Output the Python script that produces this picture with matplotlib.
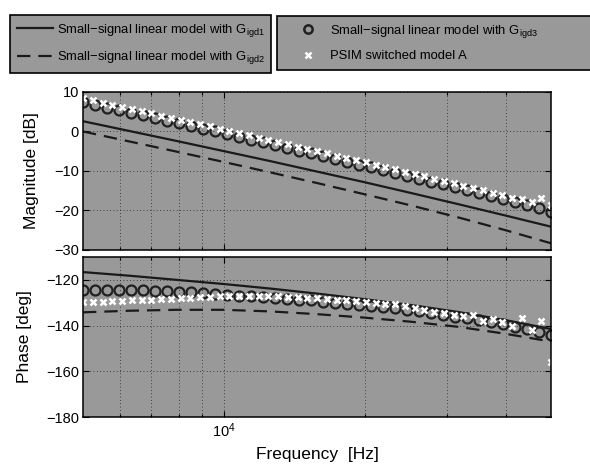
import matplotlib
matplotlib.use("Agg")
import matplotlib.pyplot as plt
from matplotlib.lines import Line2D
from matplotlib.patches import Rectangle
from matplotlib.ticker import FixedLocator, NullFormatter

plt.rcParams['font.family'] = ['Liberation Sans', 'DejaVu Sans']
plt.rcParams['mathtext.fontset'] = 'custom'
plt.rcParams['mathtext.rm'] = 'Liberation Sans'
plt.rcParams['mathtext.it'] = 'Liberation Sans'
plt.rcParams['axes.unicode_minus'] = True

# ---- small-signal model curves (sampled every 0.1 decade) ----
freq_model = [5000, 6295, 7924, 9976, 12559, 15811, 19905, 25059, 31548, 39716, 50000]
mag_gigd1 = [2.6, 0.1, -2.4, -4.95, -7.5, -10.15, -12.8, -15.55, -18.35, -21.2, -24.1]
mag_gigd2 = [0.0, -2.55, -5.1, -7.7, -10.35, -13.05, -15.85, -18.7, -21.7, -24.9, -28.3]
phase_gigd1 = [-116.6, -118.2, -120.0, -121.8, -123.8, -126.0, -128.4, -131.0, -134.0, -137.5, -141.5]
phase_gigd2 = [-134.2, -133.5, -133.1, -133.1, -133.8, -135.0, -136.5, -138.3, -140.5, -143.5, -147.0]

# ---- small-signal model evaluated at the sweep points (circles) ----
freq_circ = [5000, 5304, 5627, 5969, 6332, 6717, 7126, 7559, 8019, 8506,
             9024, 9572, 10155, 10772, 11427, 12122, 12860, 13642, 14471, 15351,
             16285, 17276, 18326, 19441, 20623, 21877, 23208, 24619, 26117, 27705,
             29390, 31177, 33073, 35085, 37219, 39482, 41883, 44431, 47133, 50000]
mag_circ = [7.35, 6.7, 6.05, 5.4, 4.72, 4.05, 3.38, 2.7, 2.02, 1.35,
            0.66, 0.0, -0.7, -1.4, -2.08, -2.78, -3.47, -4.17, -4.87, -5.57,
            -6.27, -6.98, -7.68, -8.4, -9.1, -9.82, -10.54, -11.26, -11.98, -12.7,
            -13.42, -14.15, -14.88, -15.62, -16.36, -17.1, -17.85, -18.6, -19.4, -20.3]
phase_circ = [-124.4, -124.4, -124.4, -124.5, -124.5, -124.6, -124.8, -125.0, -125.2, -125.5,
              -125.8, -126.1, -126.5, -126.9, -127.2, -127.5, -127.9, -128.3, -128.6, -129.0,
              -129.5, -130.0, -130.5, -131.0, -131.5, -132.0, -132.5, -133.1, -133.8, -134.5,
              -135.3, -136.1, -136.9, -137.7, -138.6, -139.5, -140.6, -141.7, -142.9, -144.3]

# ---- PSIM switched model A (crosses) ----
freq_psim = [5000, 5246, 5504, 5774, 6058, 6355, 6668, 6995, 7339, 7700,
             8078, 8475, 8892, 9329, 9787, 10268, 10772, 11302, 11857, 12440,
             13051, 13692, 14365, 15071, 15811, 16588, 17404, 18259, 19156, 20098,
             21085, 22121, 23208, 24349, 25545, 26801, 28118, 29499, 30949, 32470,
             34066, 35740, 37496, 39338, 41272, 43300, 45428, 47660, 50000]
mag_psim = [8.4, 7.86, 7.32, 6.78, 6.23, 5.68, 5.14, 4.59, 4.04, 3.49,
            2.93, 2.38, 1.83, 1.27, 0.71, 0.15, -0.41, -0.97, -1.54, -2.1,
            -2.67, -3.24, -3.81, -4.38, -4.95, -5.52, -6.1, -6.68, -7.25, -7.83,
            -8.41, -8.99, -9.58, -10.16, -10.75, -11.34, -11.93, -12.52, -13.11, -13.7,
            -14.3, -14.89, -15.49, -16.0, -16.8, -17.1, -17.8, -16.9, -18.5]
phase_psim = [-129.8, -129.6, -129.5, -129.3, -129.1, -129.0, -128.8, -128.6, -128.4, -128.2,
              -128.0, -127.8, -127.6, -127.4, -127.2, -127.0, -126.9, -126.9, -126.9, -127.0,
              -127.2, -127.5, -127.6, -127.9, -128.1, -128.3, -128.6, -128.9, -129.2, -129.6,
              -130.1, -130.4, -130.7, -131.3, -132.1, -133.4, -134.2, -134.4, -135.2, -135.9,
              -135.3, -137.8, -137.0, -138.5, -140.0, -136.6, -142.1, -138.1, -156.0]

label_g1 = r'Small−signal linear model with G$_{\mathrm{igd1}}$'
label_g2 = r'Small−signal linear model with G$_{\mathrm{igd2}}$'
label_g3 = r'Small−signal linear model with G$_{\mathrm{igd3}}$'
label_psim = 'PSIM switched model A'

bg = '#999999'
ink = '#1a1a1a'
dash = (0, (6, 3.6))
W, H = 590, 465

fig = plt.figure(figsize=(5.9, 4.65), dpi=100)
ax_mag = fig.add_axes([0.1407, 0.4624, 0.7932, 0.3398])
ax_ph = fig.add_axes([0.1407, 0.1032, 0.7932, 0.3441], sharex=ax_mag)

circ_style = dict(ls='none', marker='o', ms=7.2, mfc='none', mec='#202020', mew=1.6)
psim_style = dict(ls='none', marker='x', ms=5, mec='white', mew=1.8)

for ax in (ax_mag, ax_ph):
    ax.set_facecolor(bg)
    ax.set_xscale('log')
    ax.set_xlim(5000, 50000)
    ax.xaxis.set_major_locator(FixedLocator([1e4]))
    ax.xaxis.set_minor_locator(FixedLocator([6e3, 7e3, 8e3, 9e3, 2e4, 3e4, 4e4]))
    ax.xaxis.set_minor_formatter(NullFormatter())
    ax.grid(True, which='both', axis='x', color='#222222', ls=(0, (1, 3)), lw=0.6)
    ax.grid(True, which='major', axis='y', color='#222222', ls=(0, (1, 3)), lw=0.6)
    ax.tick_params(which='both', direction='in', top=True, right=True,
                   labelsize=10.5, colors='black', width=0.8)
    ax.tick_params(which='major', length=4, pad=3)
    ax.tick_params(which='minor', length=2.5)
    for s in ax.spines.values():
        s.set_linewidth(1.1)
        s.set_color('black')
    ax.set_axisbelow(True)

# magnitude
ax_mag.plot(freq_model, mag_gigd1, color=ink, lw=1.6)
ax_mag.plot(freq_model, mag_gigd2, color=ink, lw=1.6, ls=dash)
ax_mag.plot(freq_circ, mag_circ, **circ_style)
ax_mag.plot(freq_psim, mag_psim, **psim_style)
ax_mag.set_ylim(-30, 10)
ax_mag.set_yticks([-30, -20, -10, 0, 10])
ax_mag.tick_params(labelbottom=False)
ax_mag.set_ylabel('Magnitude [dB]', fontsize=12.5)
ax_mag.yaxis.set_label_coords(-0.094, 0.5)

# phase
ax_ph.plot(freq_model, phase_gigd1, color=ink, lw=1.6)
ax_ph.plot(freq_model, phase_gigd2, color=ink, lw=1.6, ls=dash)
ax_ph.plot(freq_circ, phase_circ, **circ_style)
ax_ph.plot(freq_psim, phase_psim, **psim_style)
ax_ph.set_ylim(-180, -110)
ax_ph.set_yticks([-180, -160, -140, -120])
ax_ph.set_xticks([1e4])
ax_ph.set_xticklabels([r'$10^4$'])
ax_ph.set_ylabel('Phase [deg]', fontsize=12.5)
ax_ph.yaxis.set_label_coords(-0.109, 0.5)
ax_ph.set_xlabel('Frequency  [Hz]', fontsize=12.5, labelpad=5)

# legends above the plots
leg_kw = dict(loc='upper left', fontsize=9.4, fancybox=False,
              framealpha=1, facecolor=bg, edgecolor='black', handlelength=2.8,
              handletextpad=0.3, labelspacing=0.82, borderpad=0.5, borderaxespad=0)

h1 = [Line2D([], [], color=ink, lw=1.6),
      Line2D([], [], color=ink, lw=1.6, ls=dash)]
leg1 = fig.legend(h1, [label_g1, label_g2], frameon=True,
                  bbox_to_anchor=(10 / W, 1 - 15 / H), **leg_kw)
leg1.get_frame().set_linewidth(1.2)

# the second legend box runs past the right edge of the figure
fig.patches.append(Rectangle((277 / W, 1 - 70 / H), 340 / W, 54 / H,
                             transform=fig.transFigure, facecolor=bg,
                             edgecolor='black', lw=1.2, zorder=0))
h2 = [Line2D([], [], ls='none', marker='o', ms=6, mfc='none', mec='#202020', mew=1.8),
      Line2D([], [], ls='none', marker='x', ms=4.5, mec='white', mew=1.8)]
leg2 = fig.legend(h2, [label_g3, label_psim], frameon=False,
                  bbox_to_anchor=(283 / W, 1 - 16 / H), **leg_kw)

fig.savefig('out.png', dpi=100, facecolor='white')
